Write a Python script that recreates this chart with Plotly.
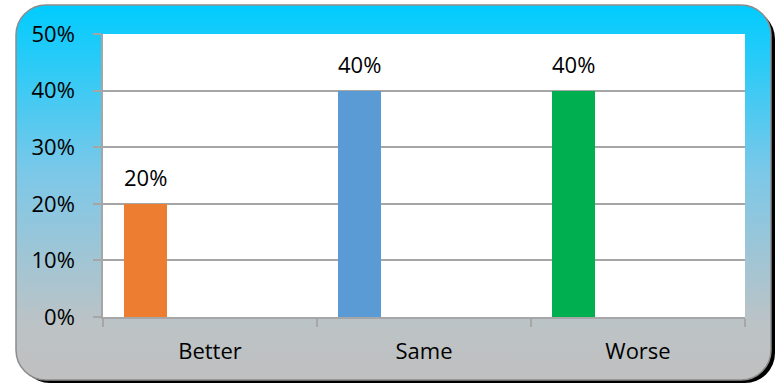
import base64
import plotly.graph_objects as go

categories = ["Better", "Same", "Worse"]
values = [0.20, 0.40, 0.40]
colors = ["#ED7D31", "#5B9BD5", "#00B050"]
labels = ["20%", "40%", "40%"]
y_ticks = [0, 0.1, 0.2, 0.3, 0.4, 0.5]

W, H = 777, 385
L, R, T, B = 103, 32, 34, 68
pw, ph = W - L - R, H - T - B

svg = f'''<svg xmlns="http://www.w3.org/2000/svg" width="{W}" height="{H}" viewBox="0 0 {W} {H}" preserveAspectRatio="none">
<defs>
<linearGradient id="g" x1="0" y1="0" x2="0" y2="1">
<stop offset="0" stop-color="#00CCFF"/>
<stop offset="0.45" stop-color="#7CC8E8"/>
<stop offset="0.85" stop-color="#BCC3C6"/>
<stop offset="1" stop-color="#C0C0C0"/>
</linearGradient>
<filter id="b" x="-5%" y="-5%" width="110%" height="110%"><feGaussianBlur stdDeviation="0.6"/></filter>
</defs>
<rect x="20" y="9" width="755" height="374" rx="30" ry="30" fill="#000" filter="url(#b)"/>
<rect x="16" y="5" width="755" height="375" rx="30" ry="30" fill="url(#g)" stroke="#8C8C8C" stroke-width="1.5"/>
</svg>'''
src = "data:image/svg+xml;base64," + base64.b64encode(svg.encode()).decode()

fig = go.Figure()
for i, (c, v, col) in enumerate(zip(categories, values, colors)):
    fig.add_trace(go.Bar(x=[c], y=[v], marker=dict(color=col, line=dict(width=0)),
                         width=0.2, offset=-0.402, showlegend=False, hoverinfo="skip"))

for i, (v, t) in enumerate(zip(values, labels)):
    fig.add_annotation(x=i - 0.302, y=v, text=t, showarrow=False, yanchor="middle", yshift=27,
                       font=dict(family="Open Sans", size=22, color="#000"))

fig.add_layout_image(dict(source=src, xref="paper", yref="paper",
                          x=-L / pw, y=1 + T / ph, sizex=W / pw, sizey=H / ph,
                          xanchor="left", yanchor="top", sizing="stretch", layer="below"))
fig.add_shape(type="rect", xref="paper", yref="paper", x0=0, x1=1, y0=0, y1=1,
              fillcolor="white", line=dict(width=0), layer="below")

fig.update_layout(
    width=W, height=H, margin=dict(l=L, r=R, t=T, b=B, pad=0),
    paper_bgcolor="white", plot_bgcolor="rgba(0,0,0,0)",
    font=dict(family="Open Sans", size=22, color="#000"),
    bargap=0,
)
fig.update_xaxes(type="category", range=[-0.5, 2.5], showline=True, linecolor="#A6A6A6", linewidth=1.5,
                 ticks="outside", tickson="boundaries", ticklen=8, tickcolor="#A6A6A6", tickwidth=1.5,
                 showgrid=False, ticklabelstandoff=14, fixedrange=True)
fig.update_yaxes(range=[0, 0.5], tickvals=y_ticks, tickformat=".0%", showline=True, linecolor="#A6A6A6",
                 linewidth=1.5, ticks="outside", ticklen=8, tickcolor="#A6A6A6", tickwidth=1.5,
                 showgrid=True, gridcolor="#A6A6A6", gridwidth=1.5, zeroline=False,
                 ticklabelstandoff=14, fixedrange=True)

fig.write_html("out.html")
